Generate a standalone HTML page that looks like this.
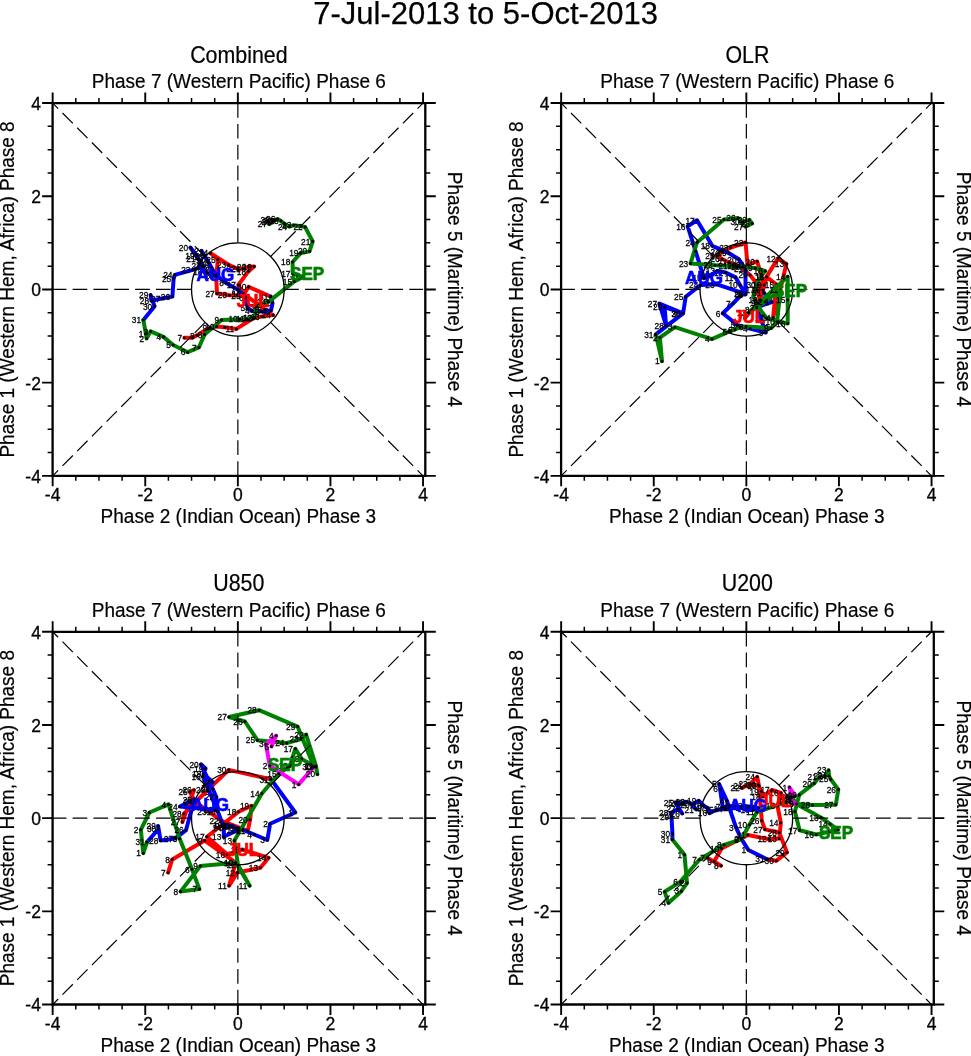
<!DOCTYPE html>
<html><head><meta charset="utf-8"><style>
html,body{margin:0;padding:0;background:#fff;overflow:hidden;}
svg{display:block;will-change:transform;}
text{font-family:"Liberation Sans", sans-serif;fill:#000;}
.d{stroke:#000;stroke-width:1.2;stroke-dasharray:14.7 6.15;fill:none;}
.c{stroke:#000;stroke-width:1.3;fill:none;}
.ax{stroke:#000;stroke-width:2.3;fill:none;}
.tk{stroke:#000;stroke-width:1.5;fill:none;}
.tkm{stroke:#000;stroke-width:1.9;fill:none;}
.tl{font-size:17.5px;stroke:#000;stroke-width:0.3px;}
.pt{font-size:22.5px;stroke:#000;stroke-width:0.2px;}
.st{font-size:19px;stroke:#000;stroke-width:0.2px;}
.tt{font-size:31px;stroke:#000;stroke-width:0.25px;}
.nl text{font-size:9.3px;text-anchor:end;stroke:#000;stroke-width:0.3px;}
.ml{font-size:18.3px;font-weight:bold;stroke-width:0.7px;}
</style></head><body>
<svg width="971" height="1056" viewBox="0 0 971 1056">
<text x="485.6" y="24" class="tt" text-anchor="middle">7-Jul-2013 to 5-Oct-2013</text>
<path d="M184.4 337.7 192.5 337.7 197 335.3 209.4 328.1 216.6 326.5 224.7 327.3 236.5 328.9 254 317.8 262 316.5 273.2 315.1 264.6 309.6 243.5 293.5 238.3 285 248.4 271.4 254.1 266.4 248.4 266.8 243 268.5 237.7 268.9 228.6 264.8 210.5 253.2 217.9 259.4 216.2 276 217 293.6 229.4 295.2 243 295.5 248.6 286.9 270.7 296.6" stroke="#ff0000" stroke-width="4.0" fill="none" stroke-linejoin="round" stroke-linecap="round"/>
<path d="M270.7 296.6 272.5 303 271 310.5 262 311.5 252 311 247.5 308 246 298 237.7 289.5 226.1 282.9 216 275 211.4 267.7 207 260 201.5 250.8 205 256.5 209 263 212.5 269.5 216 276 210 274 204.8 271.8 196.9 255.4 190.4 247.5 198 258.5 203.1 266.1 192.8 269.8 174.8 274.9 173.6 278.9 172.4 296.6 162.7 298.3 151.4 300.7 150.6 295 154.6 306.3 143.4 320" stroke="#0000ff" stroke-width="4.0" fill="none" stroke-linejoin="round" stroke-linecap="round"/>
<path d="M143.4 320 145.8 333.7 146.6 338.5 150.6 331.3 163.5 336.9 173.2 345 187.7 352.2 198.9 347.4 204.6 334.5 221.5 320 240 319.2 247 319 254.8 317.6 256.5 306.8 268.3 301.8 294.4 281.4 303 277 292.8 273.5 292.6 262 300.7 253.1 309.6 251.2 312.7 241.4 305.1 227 301.1 226.3 293.6 225.2 289.6 226.6 284.6 224.1 281 220.9 277.7 219.1 273 221.6 269.4 224.1 272 220 275 220.5" stroke="#008000" stroke-width="4.0" fill="none" stroke-linejoin="round" stroke-linecap="round"/>
<path d="M745 318 752 310 758 303 763 290 766.5 276.9 778 258.3 786.4 263.8 781.7 283.8 773.1 317.4 776.5 284.5 766.5 276.9 757 290 760 300 764 285 757.2 261.5 747.4 264.3 745.6 242.5 730.8 247.6 722 252 716.9 256 722 259 729 262.5 739 266 750 275 758 285 764 293" stroke="#ff0000" stroke-width="4.0" fill="none" stroke-linejoin="round" stroke-linecap="round"/>
<path d="M764 293 771.8 302 756.6 307.4 765.8 332.6 750 328.5 737.7 325.2 722.8 313.3 733 303.5 741.8 294.3 745.6 294.5 740 285 735.6 277.4 725.7 272.5 717.4 270.9 710 276 704 278.2 695.6 251.3 687.7 226.3 697 220.3 712.3 245.8 729 253.2 738.9 259.3 745.5 269.2 745.5 293.9 716.9 284.3 700.6 285 685.7 296.8 683.1 313.3 659.4 303.5 666.1 325.7 664.6 307.1 683.1 313.3 655.8 334.4" stroke="#0000ff" stroke-width="4.0" fill="none" stroke-linejoin="round" stroke-linecap="round"/>
<path d="M655.8 334.4 662 361.2 659.9 337.5 674.9 327.2 711.9 339.1 729.4 331.3 735 329.5 740 327.5 746 326.5 771.1 328 777.1 321.7 780.4 290 765 302 748.6 312.7 787.7 276.6 787.7 300 787.7 323.6 766.5 318 756.6 304.8 753.3 296.1 756.6 284.9 761.9 274.9 765.2 271 755 268 742.8 267.1 730 266 715 265.2 690.5 263.4 697 242.5 723.9 219.4 738 218 745.6 226.8 752.1 223.5 749.3 219.8 742 222" stroke="#008000" stroke-width="4.0" fill="none" stroke-linejoin="round" stroke-linecap="round"/>
<path d="M168.1 872.6 172.2 859.4 204.7 840.5 235.7 862.7 229.1 885.8 237.3 872.6 260.4 867.7 268.6 857.8 242.3 849.5 227.4 854.5 207 836.8 238.6 811.8 251.5 805.8 250.1 819.7 247.8 830.8 221 820.6 208.9 811.3 195 802 190 792 194 790 182.4 822 184 813.7 207.7 790 228.8 769.9 271 779.3" stroke="#ff0000" stroke-width="4.0" fill="none" stroke-linejoin="round" stroke-linecap="round"/>
<path d="M271 779.3 295.3 812.5 270.1 823.8 267.3 840 254.3 834.5 243 830 236 828 230 826 226 828 222 826 224.7 825.2 233 826.1 238 830 223.7 836.8 224 828 218 812 203 776.6 212.8 782.3 203.6 774 205.6 768.4 201 764.3 212.8 789 216.4 797.2 215.4 810.1 179.9 806.5 194.3 799.3 186 830.2 175.4 838.4 160.6 840.4 158.1 826 158.5 829 147 842.1" stroke="#0000ff" stroke-width="4.0" fill="none" stroke-linejoin="round" stroke-linecap="round"/>
<path d="M147 842.1 143.3 853.2 140.8 829.8 149.4 812.5 168.5 804.4 179.7 838.8 192 869.3 199.4 889.1 180.5 891.6 200.3 866 235.7 862.7 249.7 885.8 238 865 234.4 840.5 261.9 793.5 278.9 773.6 290 766 295.3 748.7 301.6 758.9 316 767 317.4 774.2 316 766 306.1 734.6 301 739.1 286.8 743 257.4 740.2 244.9 721.5 229.1 717 259.1 710.2 297.6 726.6 314 766.8" stroke="#008000" stroke-width="4.0" fill="none" stroke-linejoin="round" stroke-linecap="round"/>
<path d="M314 766.8 298.7 784.4 269.8 765.7 265.9 744.2 276.1 735.7 271.5 746.4" stroke="#ff00ff" stroke-width="4.0" fill="none" stroke-linejoin="round" stroke-linecap="round"/>
<path d="M707.3 857.8 721 865.8 714.1 861.5 721.6 848.5 747.9 835 769 839.2 779.3 838.6 780.8 822.7 777.5 806 781 793 772 790 762.9 796.5 761.1 791.3 758.2 784.9 745 786 742 788 750 784 757.2 776.8 759 786 761.8 820.6 764.9 829.4 779.3 832.5 787 852.5 776.2 860.8 766.9 859.2" stroke="#ff0000" stroke-width="4.0" fill="none" stroke-linejoin="round" stroke-linecap="round"/>
<path d="M766.9 859.2 748.4 850 741.2 838.6 736 827.3 726.8 800.5 719.1 784.1 720.1 789.2 722.7 807.2 732 806 742 808 752 810 758 808 745 806 735 808 725 809 715.9 810 709.4 813.1 707.8 808.1 704 806 698.7 800.7 692 805 696.2 809.4 690 803 687.2 802 681.4 803.2 675.2 802.4 682.2 813.5 678 809 670.7 813.1 671.5 816.4 672.4 833.7 672.4 839.4" stroke="#0000ff" stroke-width="4.0" fill="none" stroke-linejoin="round" stroke-linecap="round"/>
<path d="M672.4 839.4 684.5 854.7 687 883.1 681.4 891.2 668.4 902.9 664.7 891.8 680.2 881.9 699.3 859.7 724 844.8 741.3 839.3 749.4 824.7 757 812 790 800.5 820.9 817.5 830 824 837.9 829.8 816.2 834.5 799.6 830.3 794.9 811.5 799.2 794.9 814.1 783.4 819.2 777 825 776 828.6 770.2 829 776 830.7 779.2 838.3 789.4 835.8 804.7 812.4 805.1 796.2 803.9 792 797" stroke="#008000" stroke-width="4.0" fill="none" stroke-linejoin="round" stroke-linecap="round"/>
<path d="M792 797 789.4 787.3 795 796 787 797 790 800 796 804" stroke="#ff00ff" stroke-width="4.0" fill="none" stroke-linejoin="round" stroke-linecap="round"/>
<line x1="284.15" y1="289.45" x2="423.05" y2="289.45" class="d"/>
<line x1="191.55" y1="289.45" x2="52.65" y2="289.45" class="d"/>
<line x1="237.85" y1="242.85" x2="237.85" y2="103.05" class="d"/>
<line x1="237.85" y1="336.05" x2="237.85" y2="475.85" class="d"/>
<line x1="270.59" y1="256.5" x2="423.05" y2="103.05" class="d"/>
<line x1="270.59" y1="322.4" x2="423.05" y2="475.85" class="d"/>
<line x1="205.11" y1="256.5" x2="52.65" y2="103.05" class="d"/>
<line x1="205.11" y1="322.4" x2="52.65" y2="475.85" class="d"/>
<ellipse cx="237.85" cy="289.45" rx="46.3" ry="46.6" class="c"/>
<line x1="792.65" y1="289.45" x2="931.55" y2="289.45" class="d"/>
<line x1="700.05" y1="289.45" x2="561.15" y2="289.45" class="d"/>
<line x1="746.35" y1="242.85" x2="746.35" y2="103.05" class="d"/>
<line x1="746.35" y1="336.05" x2="746.35" y2="475.85" class="d"/>
<line x1="779.09" y1="256.5" x2="931.55" y2="103.05" class="d"/>
<line x1="779.09" y1="322.4" x2="931.55" y2="475.85" class="d"/>
<line x1="713.61" y1="256.5" x2="561.15" y2="103.05" class="d"/>
<line x1="713.61" y1="322.4" x2="561.15" y2="475.85" class="d"/>
<ellipse cx="746.35" cy="289.45" rx="46.3" ry="46.6" class="c"/>
<line x1="284.15" y1="818.15" x2="423.05" y2="818.15" class="d"/>
<line x1="191.55" y1="818.15" x2="52.65" y2="818.15" class="d"/>
<line x1="237.85" y1="771.55" x2="237.85" y2="631.75" class="d"/>
<line x1="237.85" y1="864.75" x2="237.85" y2="1004.55" class="d"/>
<line x1="270.59" y1="785.2" x2="423.05" y2="631.75" class="d"/>
<line x1="270.59" y1="851.1" x2="423.05" y2="1004.55" class="d"/>
<line x1="205.11" y1="785.2" x2="52.65" y2="631.75" class="d"/>
<line x1="205.11" y1="851.1" x2="52.65" y2="1004.55" class="d"/>
<ellipse cx="237.85" cy="818.15" rx="46.3" ry="46.6" class="c"/>
<line x1="792.65" y1="818.15" x2="931.55" y2="818.15" class="d"/>
<line x1="700.05" y1="818.15" x2="561.15" y2="818.15" class="d"/>
<line x1="746.35" y1="771.55" x2="746.35" y2="631.75" class="d"/>
<line x1="746.35" y1="864.75" x2="746.35" y2="1004.55" class="d"/>
<line x1="779.09" y1="785.2" x2="931.55" y2="631.75" class="d"/>
<line x1="779.09" y1="851.1" x2="931.55" y2="1004.55" class="d"/>
<line x1="713.61" y1="785.2" x2="561.15" y2="631.75" class="d"/>
<line x1="713.61" y1="851.1" x2="561.15" y2="1004.55" class="d"/>
<ellipse cx="746.35" cy="818.15" rx="46.3" ry="46.6" class="c"/>
<path d="M182.8 337.7a1.55 1.55 0 1 0 3.1 0a1.55 1.55 0 1 0 -3.1 0M190.9 337.7a1.55 1.55 0 1 0 3.1 0a1.55 1.55 0 1 0 -3.1 0M195.4 335.3a1.55 1.55 0 1 0 3.1 0a1.55 1.55 0 1 0 -3.1 0M207.8 328.1a1.55 1.55 0 1 0 3.1 0a1.55 1.55 0 1 0 -3.1 0M215 326.5a1.55 1.55 0 1 0 3.1 0a1.55 1.55 0 1 0 -3.1 0M223.1 327.3a1.55 1.55 0 1 0 3.1 0a1.55 1.55 0 1 0 -3.1 0M234.9 328.9a1.55 1.55 0 1 0 3.1 0a1.55 1.55 0 1 0 -3.1 0M252.4 317.8a1.55 1.55 0 1 0 3.1 0a1.55 1.55 0 1 0 -3.1 0M260.4 316.5a1.55 1.55 0 1 0 3.1 0a1.55 1.55 0 1 0 -3.1 0M271.6 315.1a1.55 1.55 0 1 0 3.1 0a1.55 1.55 0 1 0 -3.1 0M263.1 309.6a1.55 1.55 0 1 0 3.1 0a1.55 1.55 0 1 0 -3.1 0M241.9 293.5a1.55 1.55 0 1 0 3.1 0a1.55 1.55 0 1 0 -3.1 0M236.8 285a1.55 1.55 0 1 0 3.1 0a1.55 1.55 0 1 0 -3.1 0M246.8 271.4a1.55 1.55 0 1 0 3.1 0a1.55 1.55 0 1 0 -3.1 0M252.5 266.4a1.55 1.55 0 1 0 3.1 0a1.55 1.55 0 1 0 -3.1 0M246.8 266.8a1.55 1.55 0 1 0 3.1 0a1.55 1.55 0 1 0 -3.1 0M241.4 268.5a1.55 1.55 0 1 0 3.1 0a1.55 1.55 0 1 0 -3.1 0M236.1 268.9a1.55 1.55 0 1 0 3.1 0a1.55 1.55 0 1 0 -3.1 0M227 264.8a1.55 1.55 0 1 0 3.1 0a1.55 1.55 0 1 0 -3.1 0M208.9 253.2a1.55 1.55 0 1 0 3.1 0a1.55 1.55 0 1 0 -3.1 0M216.3 259.4a1.55 1.55 0 1 0 3.1 0a1.55 1.55 0 1 0 -3.1 0M214.6 276a1.55 1.55 0 1 0 3.1 0a1.55 1.55 0 1 0 -3.1 0M215.4 293.6a1.55 1.55 0 1 0 3.1 0a1.55 1.55 0 1 0 -3.1 0M227.8 295.2a1.55 1.55 0 1 0 3.1 0a1.55 1.55 0 1 0 -3.1 0M241.4 295.5a1.55 1.55 0 1 0 3.1 0a1.55 1.55 0 1 0 -3.1 0M247 286.9a1.55 1.55 0 1 0 3.1 0a1.55 1.55 0 1 0 -3.1 0M269.1 296.6a1.55 1.55 0 1 0 3.1 0a1.55 1.55 0 1 0 -3.1 0M270.9 303a1.55 1.55 0 1 0 3.1 0a1.55 1.55 0 1 0 -3.1 0M269.4 310.5a1.55 1.55 0 1 0 3.1 0a1.55 1.55 0 1 0 -3.1 0M260.4 311.5a1.55 1.55 0 1 0 3.1 0a1.55 1.55 0 1 0 -3.1 0M250.4 311a1.55 1.55 0 1 0 3.1 0a1.55 1.55 0 1 0 -3.1 0M245.9 308a1.55 1.55 0 1 0 3.1 0a1.55 1.55 0 1 0 -3.1 0M244.4 298a1.55 1.55 0 1 0 3.1 0a1.55 1.55 0 1 0 -3.1 0M236.1 289.5a1.55 1.55 0 1 0 3.1 0a1.55 1.55 0 1 0 -3.1 0M224.5 282.9a1.55 1.55 0 1 0 3.1 0a1.55 1.55 0 1 0 -3.1 0M214.4 275a1.55 1.55 0 1 0 3.1 0a1.55 1.55 0 1 0 -3.1 0M209.8 267.7a1.55 1.55 0 1 0 3.1 0a1.55 1.55 0 1 0 -3.1 0M205.4 260a1.55 1.55 0 1 0 3.1 0a1.55 1.55 0 1 0 -3.1 0M199.9 250.8a1.55 1.55 0 1 0 3.1 0a1.55 1.55 0 1 0 -3.1 0M203.4 256.5a1.55 1.55 0 1 0 3.1 0a1.55 1.55 0 1 0 -3.1 0M207.4 263a1.55 1.55 0 1 0 3.1 0a1.55 1.55 0 1 0 -3.1 0M210.9 269.5a1.55 1.55 0 1 0 3.1 0a1.55 1.55 0 1 0 -3.1 0M214.4 276a1.55 1.55 0 1 0 3.1 0a1.55 1.55 0 1 0 -3.1 0M208.4 274a1.55 1.55 0 1 0 3.1 0a1.55 1.55 0 1 0 -3.1 0M203.2 271.8a1.55 1.55 0 1 0 3.1 0a1.55 1.55 0 1 0 -3.1 0M195.3 255.4a1.55 1.55 0 1 0 3.1 0a1.55 1.55 0 1 0 -3.1 0M188.8 247.5a1.55 1.55 0 1 0 3.1 0a1.55 1.55 0 1 0 -3.1 0M196.4 258.5a1.55 1.55 0 1 0 3.1 0a1.55 1.55 0 1 0 -3.1 0M201.5 266.1a1.55 1.55 0 1 0 3.1 0a1.55 1.55 0 1 0 -3.1 0M191.2 269.8a1.55 1.55 0 1 0 3.1 0a1.55 1.55 0 1 0 -3.1 0M173.2 274.9a1.55 1.55 0 1 0 3.1 0a1.55 1.55 0 1 0 -3.1 0M172 278.9a1.55 1.55 0 1 0 3.1 0a1.55 1.55 0 1 0 -3.1 0M170.8 296.6a1.55 1.55 0 1 0 3.1 0a1.55 1.55 0 1 0 -3.1 0M161.1 298.3a1.55 1.55 0 1 0 3.1 0a1.55 1.55 0 1 0 -3.1 0M149.8 300.7a1.55 1.55 0 1 0 3.1 0a1.55 1.55 0 1 0 -3.1 0M149 295a1.55 1.55 0 1 0 3.1 0a1.55 1.55 0 1 0 -3.1 0M153 306.3a1.55 1.55 0 1 0 3.1 0a1.55 1.55 0 1 0 -3.1 0M141.8 320a1.55 1.55 0 1 0 3.1 0a1.55 1.55 0 1 0 -3.1 0M144.2 333.7a1.55 1.55 0 1 0 3.1 0a1.55 1.55 0 1 0 -3.1 0M145 338.5a1.55 1.55 0 1 0 3.1 0a1.55 1.55 0 1 0 -3.1 0M149 331.3a1.55 1.55 0 1 0 3.1 0a1.55 1.55 0 1 0 -3.1 0M161.9 336.9a1.55 1.55 0 1 0 3.1 0a1.55 1.55 0 1 0 -3.1 0M171.6 345a1.55 1.55 0 1 0 3.1 0a1.55 1.55 0 1 0 -3.1 0M186.1 352.2a1.55 1.55 0 1 0 3.1 0a1.55 1.55 0 1 0 -3.1 0M197.3 347.4a1.55 1.55 0 1 0 3.1 0a1.55 1.55 0 1 0 -3.1 0M203 334.5a1.55 1.55 0 1 0 3.1 0a1.55 1.55 0 1 0 -3.1 0M219.9 320a1.55 1.55 0 1 0 3.1 0a1.55 1.55 0 1 0 -3.1 0M238.4 319.2a1.55 1.55 0 1 0 3.1 0a1.55 1.55 0 1 0 -3.1 0M245.4 319a1.55 1.55 0 1 0 3.1 0a1.55 1.55 0 1 0 -3.1 0M253.2 317.6a1.55 1.55 0 1 0 3.1 0a1.55 1.55 0 1 0 -3.1 0M254.9 306.8a1.55 1.55 0 1 0 3.1 0a1.55 1.55 0 1 0 -3.1 0M266.8 301.8a1.55 1.55 0 1 0 3.1 0a1.55 1.55 0 1 0 -3.1 0M292.8 281.4a1.55 1.55 0 1 0 3.1 0a1.55 1.55 0 1 0 -3.1 0M301.4 277a1.55 1.55 0 1 0 3.1 0a1.55 1.55 0 1 0 -3.1 0M291.2 273.5a1.55 1.55 0 1 0 3.1 0a1.55 1.55 0 1 0 -3.1 0M291.1 262a1.55 1.55 0 1 0 3.1 0a1.55 1.55 0 1 0 -3.1 0M299.1 253.1a1.55 1.55 0 1 0 3.1 0a1.55 1.55 0 1 0 -3.1 0M308.1 251.2a1.55 1.55 0 1 0 3.1 0a1.55 1.55 0 1 0 -3.1 0M311.1 241.4a1.55 1.55 0 1 0 3.1 0a1.55 1.55 0 1 0 -3.1 0M303.6 227a1.55 1.55 0 1 0 3.1 0a1.55 1.55 0 1 0 -3.1 0M299.6 226.3a1.55 1.55 0 1 0 3.1 0a1.55 1.55 0 1 0 -3.1 0M292.1 225.2a1.55 1.55 0 1 0 3.1 0a1.55 1.55 0 1 0 -3.1 0M288.1 226.6a1.55 1.55 0 1 0 3.1 0a1.55 1.55 0 1 0 -3.1 0M283.1 224.1a1.55 1.55 0 1 0 3.1 0a1.55 1.55 0 1 0 -3.1 0M279.4 220.9a1.55 1.55 0 1 0 3.1 0a1.55 1.55 0 1 0 -3.1 0M276.1 219.1a1.55 1.55 0 1 0 3.1 0a1.55 1.55 0 1 0 -3.1 0M271.4 221.6a1.55 1.55 0 1 0 3.1 0a1.55 1.55 0 1 0 -3.1 0M267.8 224.1a1.55 1.55 0 1 0 3.1 0a1.55 1.55 0 1 0 -3.1 0M270.4 220a1.55 1.55 0 1 0 3.1 0a1.55 1.55 0 1 0 -3.1 0M273.4 220.5a1.55 1.55 0 1 0 3.1 0a1.55 1.55 0 1 0 -3.1 0M743.5 318a1.55 1.55 0 1 0 3.1 0a1.55 1.55 0 1 0 -3.1 0M750.5 310a1.55 1.55 0 1 0 3.1 0a1.55 1.55 0 1 0 -3.1 0M756.5 303a1.55 1.55 0 1 0 3.1 0a1.55 1.55 0 1 0 -3.1 0M761.5 290a1.55 1.55 0 1 0 3.1 0a1.55 1.55 0 1 0 -3.1 0M765 276.9a1.55 1.55 0 1 0 3.1 0a1.55 1.55 0 1 0 -3.1 0M776.5 258.3a1.55 1.55 0 1 0 3.1 0a1.55 1.55 0 1 0 -3.1 0M784.9 263.8a1.55 1.55 0 1 0 3.1 0a1.55 1.55 0 1 0 -3.1 0M771.6 317.4a1.55 1.55 0 1 0 3.1 0a1.55 1.55 0 1 0 -3.1 0M775 284.5a1.55 1.55 0 1 0 3.1 0a1.55 1.55 0 1 0 -3.1 0M765 276.9a1.55 1.55 0 1 0 3.1 0a1.55 1.55 0 1 0 -3.1 0M755.5 290a1.55 1.55 0 1 0 3.1 0a1.55 1.55 0 1 0 -3.1 0M758.5 300a1.55 1.55 0 1 0 3.1 0a1.55 1.55 0 1 0 -3.1 0M762.5 285a1.55 1.55 0 1 0 3.1 0a1.55 1.55 0 1 0 -3.1 0M755.7 261.5a1.55 1.55 0 1 0 3.1 0a1.55 1.55 0 1 0 -3.1 0M745.9 264.3a1.55 1.55 0 1 0 3.1 0a1.55 1.55 0 1 0 -3.1 0M744.1 242.5a1.55 1.55 0 1 0 3.1 0a1.55 1.55 0 1 0 -3.1 0M729.2 247.6a1.55 1.55 0 1 0 3.1 0a1.55 1.55 0 1 0 -3.1 0M720.5 252a1.55 1.55 0 1 0 3.1 0a1.55 1.55 0 1 0 -3.1 0M715.4 256a1.55 1.55 0 1 0 3.1 0a1.55 1.55 0 1 0 -3.1 0M720.5 259a1.55 1.55 0 1 0 3.1 0a1.55 1.55 0 1 0 -3.1 0M727.5 262.5a1.55 1.55 0 1 0 3.1 0a1.55 1.55 0 1 0 -3.1 0M737.5 266a1.55 1.55 0 1 0 3.1 0a1.55 1.55 0 1 0 -3.1 0M748.5 275a1.55 1.55 0 1 0 3.1 0a1.55 1.55 0 1 0 -3.1 0M756.5 285a1.55 1.55 0 1 0 3.1 0a1.55 1.55 0 1 0 -3.1 0M762.5 293a1.55 1.55 0 1 0 3.1 0a1.55 1.55 0 1 0 -3.1 0M770.2 302a1.55 1.55 0 1 0 3.1 0a1.55 1.55 0 1 0 -3.1 0M755.1 307.4a1.55 1.55 0 1 0 3.1 0a1.55 1.55 0 1 0 -3.1 0M764.2 332.6a1.55 1.55 0 1 0 3.1 0a1.55 1.55 0 1 0 -3.1 0M748.5 328.5a1.55 1.55 0 1 0 3.1 0a1.55 1.55 0 1 0 -3.1 0M736.2 325.2a1.55 1.55 0 1 0 3.1 0a1.55 1.55 0 1 0 -3.1 0M721.2 313.3a1.55 1.55 0 1 0 3.1 0a1.55 1.55 0 1 0 -3.1 0M731.5 303.5a1.55 1.55 0 1 0 3.1 0a1.55 1.55 0 1 0 -3.1 0M740.2 294.3a1.55 1.55 0 1 0 3.1 0a1.55 1.55 0 1 0 -3.1 0M744.1 294.5a1.55 1.55 0 1 0 3.1 0a1.55 1.55 0 1 0 -3.1 0M738.5 285a1.55 1.55 0 1 0 3.1 0a1.55 1.55 0 1 0 -3.1 0M734.1 277.4a1.55 1.55 0 1 0 3.1 0a1.55 1.55 0 1 0 -3.1 0M724.2 272.5a1.55 1.55 0 1 0 3.1 0a1.55 1.55 0 1 0 -3.1 0M715.9 270.9a1.55 1.55 0 1 0 3.1 0a1.55 1.55 0 1 0 -3.1 0M708.5 276a1.55 1.55 0 1 0 3.1 0a1.55 1.55 0 1 0 -3.1 0M702.5 278.2a1.55 1.55 0 1 0 3.1 0a1.55 1.55 0 1 0 -3.1 0M694.1 251.3a1.55 1.55 0 1 0 3.1 0a1.55 1.55 0 1 0 -3.1 0M686.2 226.3a1.55 1.55 0 1 0 3.1 0a1.55 1.55 0 1 0 -3.1 0M695.5 220.3a1.55 1.55 0 1 0 3.1 0a1.55 1.55 0 1 0 -3.1 0M710.8 245.8a1.55 1.55 0 1 0 3.1 0a1.55 1.55 0 1 0 -3.1 0M727.5 253.2a1.55 1.55 0 1 0 3.1 0a1.55 1.55 0 1 0 -3.1 0M737.4 259.3a1.55 1.55 0 1 0 3.1 0a1.55 1.55 0 1 0 -3.1 0M744 269.2a1.55 1.55 0 1 0 3.1 0a1.55 1.55 0 1 0 -3.1 0M744 293.9a1.55 1.55 0 1 0 3.1 0a1.55 1.55 0 1 0 -3.1 0M715.4 284.3a1.55 1.55 0 1 0 3.1 0a1.55 1.55 0 1 0 -3.1 0M699.1 285a1.55 1.55 0 1 0 3.1 0a1.55 1.55 0 1 0 -3.1 0M684.2 296.8a1.55 1.55 0 1 0 3.1 0a1.55 1.55 0 1 0 -3.1 0M681.6 313.3a1.55 1.55 0 1 0 3.1 0a1.55 1.55 0 1 0 -3.1 0M657.9 303.5a1.55 1.55 0 1 0 3.1 0a1.55 1.55 0 1 0 -3.1 0M664.6 325.7a1.55 1.55 0 1 0 3.1 0a1.55 1.55 0 1 0 -3.1 0M663.1 307.1a1.55 1.55 0 1 0 3.1 0a1.55 1.55 0 1 0 -3.1 0M681.6 313.3a1.55 1.55 0 1 0 3.1 0a1.55 1.55 0 1 0 -3.1 0M654.2 334.4a1.55 1.55 0 1 0 3.1 0a1.55 1.55 0 1 0 -3.1 0M660.5 361.2a1.55 1.55 0 1 0 3.1 0a1.55 1.55 0 1 0 -3.1 0M658.4 337.5a1.55 1.55 0 1 0 3.1 0a1.55 1.55 0 1 0 -3.1 0M673.4 327.2a1.55 1.55 0 1 0 3.1 0a1.55 1.55 0 1 0 -3.1 0M710.4 339.1a1.55 1.55 0 1 0 3.1 0a1.55 1.55 0 1 0 -3.1 0M727.9 331.3a1.55 1.55 0 1 0 3.1 0a1.55 1.55 0 1 0 -3.1 0M733.5 329.5a1.55 1.55 0 1 0 3.1 0a1.55 1.55 0 1 0 -3.1 0M738.5 327.5a1.55 1.55 0 1 0 3.1 0a1.55 1.55 0 1 0 -3.1 0M744.5 326.5a1.55 1.55 0 1 0 3.1 0a1.55 1.55 0 1 0 -3.1 0M769.6 328a1.55 1.55 0 1 0 3.1 0a1.55 1.55 0 1 0 -3.1 0M775.6 321.7a1.55 1.55 0 1 0 3.1 0a1.55 1.55 0 1 0 -3.1 0M778.9 290a1.55 1.55 0 1 0 3.1 0a1.55 1.55 0 1 0 -3.1 0M763.5 302a1.55 1.55 0 1 0 3.1 0a1.55 1.55 0 1 0 -3.1 0M747.1 312.7a1.55 1.55 0 1 0 3.1 0a1.55 1.55 0 1 0 -3.1 0M786.2 276.6a1.55 1.55 0 1 0 3.1 0a1.55 1.55 0 1 0 -3.1 0M786.2 300a1.55 1.55 0 1 0 3.1 0a1.55 1.55 0 1 0 -3.1 0M786.2 323.6a1.55 1.55 0 1 0 3.1 0a1.55 1.55 0 1 0 -3.1 0M765 318a1.55 1.55 0 1 0 3.1 0a1.55 1.55 0 1 0 -3.1 0M763.7 271a1.55 1.55 0 1 0 3.1 0a1.55 1.55 0 1 0 -3.1 0M753.5 268a1.55 1.55 0 1 0 3.1 0a1.55 1.55 0 1 0 -3.1 0M741.2 267.1a1.55 1.55 0 1 0 3.1 0a1.55 1.55 0 1 0 -3.1 0M728.5 266a1.55 1.55 0 1 0 3.1 0a1.55 1.55 0 1 0 -3.1 0M713.5 265.2a1.55 1.55 0 1 0 3.1 0a1.55 1.55 0 1 0 -3.1 0M689 263.4a1.55 1.55 0 1 0 3.1 0a1.55 1.55 0 1 0 -3.1 0M695.5 242.5a1.55 1.55 0 1 0 3.1 0a1.55 1.55 0 1 0 -3.1 0M722.4 219.4a1.55 1.55 0 1 0 3.1 0a1.55 1.55 0 1 0 -3.1 0M736.5 218a1.55 1.55 0 1 0 3.1 0a1.55 1.55 0 1 0 -3.1 0M744.1 226.8a1.55 1.55 0 1 0 3.1 0a1.55 1.55 0 1 0 -3.1 0M750.6 223.5a1.55 1.55 0 1 0 3.1 0a1.55 1.55 0 1 0 -3.1 0M747.8 219.8a1.55 1.55 0 1 0 3.1 0a1.55 1.55 0 1 0 -3.1 0M740.5 222a1.55 1.55 0 1 0 3.1 0a1.55 1.55 0 1 0 -3.1 0M166.5 872.6a1.55 1.55 0 1 0 3.1 0a1.55 1.55 0 1 0 -3.1 0M170.6 859.4a1.55 1.55 0 1 0 3.1 0a1.55 1.55 0 1 0 -3.1 0M203.1 840.5a1.55 1.55 0 1 0 3.1 0a1.55 1.55 0 1 0 -3.1 0M234.1 862.7a1.55 1.55 0 1 0 3.1 0a1.55 1.55 0 1 0 -3.1 0M227.5 885.8a1.55 1.55 0 1 0 3.1 0a1.55 1.55 0 1 0 -3.1 0M235.8 872.6a1.55 1.55 0 1 0 3.1 0a1.55 1.55 0 1 0 -3.1 0M258.8 867.7a1.55 1.55 0 1 0 3.1 0a1.55 1.55 0 1 0 -3.1 0M267.1 857.8a1.55 1.55 0 1 0 3.1 0a1.55 1.55 0 1 0 -3.1 0M240.8 849.5a1.55 1.55 0 1 0 3.1 0a1.55 1.55 0 1 0 -3.1 0M225.8 854.5a1.55 1.55 0 1 0 3.1 0a1.55 1.55 0 1 0 -3.1 0M205.4 836.8a1.55 1.55 0 1 0 3.1 0a1.55 1.55 0 1 0 -3.1 0M237 811.8a1.55 1.55 0 1 0 3.1 0a1.55 1.55 0 1 0 -3.1 0M249.9 805.8a1.55 1.55 0 1 0 3.1 0a1.55 1.55 0 1 0 -3.1 0M248.5 819.7a1.55 1.55 0 1 0 3.1 0a1.55 1.55 0 1 0 -3.1 0M246.2 830.8a1.55 1.55 0 1 0 3.1 0a1.55 1.55 0 1 0 -3.1 0M219.4 820.6a1.55 1.55 0 1 0 3.1 0a1.55 1.55 0 1 0 -3.1 0M207.3 811.3a1.55 1.55 0 1 0 3.1 0a1.55 1.55 0 1 0 -3.1 0M193.4 802a1.55 1.55 0 1 0 3.1 0a1.55 1.55 0 1 0 -3.1 0M188.4 792a1.55 1.55 0 1 0 3.1 0a1.55 1.55 0 1 0 -3.1 0M192.4 790a1.55 1.55 0 1 0 3.1 0a1.55 1.55 0 1 0 -3.1 0M180.8 822a1.55 1.55 0 1 0 3.1 0a1.55 1.55 0 1 0 -3.1 0M182.4 813.7a1.55 1.55 0 1 0 3.1 0a1.55 1.55 0 1 0 -3.1 0M206.1 790a1.55 1.55 0 1 0 3.1 0a1.55 1.55 0 1 0 -3.1 0M227.2 769.9a1.55 1.55 0 1 0 3.1 0a1.55 1.55 0 1 0 -3.1 0M269.4 779.3a1.55 1.55 0 1 0 3.1 0a1.55 1.55 0 1 0 -3.1 0M293.8 812.5a1.55 1.55 0 1 0 3.1 0a1.55 1.55 0 1 0 -3.1 0M268.6 823.8a1.55 1.55 0 1 0 3.1 0a1.55 1.55 0 1 0 -3.1 0M265.8 840a1.55 1.55 0 1 0 3.1 0a1.55 1.55 0 1 0 -3.1 0M252.8 834.5a1.55 1.55 0 1 0 3.1 0a1.55 1.55 0 1 0 -3.1 0M241.4 830a1.55 1.55 0 1 0 3.1 0a1.55 1.55 0 1 0 -3.1 0M234.4 828a1.55 1.55 0 1 0 3.1 0a1.55 1.55 0 1 0 -3.1 0M228.4 826a1.55 1.55 0 1 0 3.1 0a1.55 1.55 0 1 0 -3.1 0M224.4 828a1.55 1.55 0 1 0 3.1 0a1.55 1.55 0 1 0 -3.1 0M220.4 826a1.55 1.55 0 1 0 3.1 0a1.55 1.55 0 1 0 -3.1 0M223.1 825.2a1.55 1.55 0 1 0 3.1 0a1.55 1.55 0 1 0 -3.1 0M231.4 826.1a1.55 1.55 0 1 0 3.1 0a1.55 1.55 0 1 0 -3.1 0M236.4 830a1.55 1.55 0 1 0 3.1 0a1.55 1.55 0 1 0 -3.1 0M222.1 836.8a1.55 1.55 0 1 0 3.1 0a1.55 1.55 0 1 0 -3.1 0M222.4 828a1.55 1.55 0 1 0 3.1 0a1.55 1.55 0 1 0 -3.1 0M216.4 812a1.55 1.55 0 1 0 3.1 0a1.55 1.55 0 1 0 -3.1 0M201.4 776.6a1.55 1.55 0 1 0 3.1 0a1.55 1.55 0 1 0 -3.1 0M211.2 782.3a1.55 1.55 0 1 0 3.1 0a1.55 1.55 0 1 0 -3.1 0M202 774a1.55 1.55 0 1 0 3.1 0a1.55 1.55 0 1 0 -3.1 0M204 768.4a1.55 1.55 0 1 0 3.1 0a1.55 1.55 0 1 0 -3.1 0M199.4 764.3a1.55 1.55 0 1 0 3.1 0a1.55 1.55 0 1 0 -3.1 0M211.2 789a1.55 1.55 0 1 0 3.1 0a1.55 1.55 0 1 0 -3.1 0M214.8 797.2a1.55 1.55 0 1 0 3.1 0a1.55 1.55 0 1 0 -3.1 0M213.8 810.1a1.55 1.55 0 1 0 3.1 0a1.55 1.55 0 1 0 -3.1 0M178.3 806.5a1.55 1.55 0 1 0 3.1 0a1.55 1.55 0 1 0 -3.1 0M192.8 799.3a1.55 1.55 0 1 0 3.1 0a1.55 1.55 0 1 0 -3.1 0M184.4 830.2a1.55 1.55 0 1 0 3.1 0a1.55 1.55 0 1 0 -3.1 0M173.8 838.4a1.55 1.55 0 1 0 3.1 0a1.55 1.55 0 1 0 -3.1 0M159 840.4a1.55 1.55 0 1 0 3.1 0a1.55 1.55 0 1 0 -3.1 0M156.5 826a1.55 1.55 0 1 0 3.1 0a1.55 1.55 0 1 0 -3.1 0M156.9 829a1.55 1.55 0 1 0 3.1 0a1.55 1.55 0 1 0 -3.1 0M145.4 842.1a1.55 1.55 0 1 0 3.1 0a1.55 1.55 0 1 0 -3.1 0M141.8 853.2a1.55 1.55 0 1 0 3.1 0a1.55 1.55 0 1 0 -3.1 0M139.2 829.8a1.55 1.55 0 1 0 3.1 0a1.55 1.55 0 1 0 -3.1 0M147.8 812.5a1.55 1.55 0 1 0 3.1 0a1.55 1.55 0 1 0 -3.1 0M166.9 804.4a1.55 1.55 0 1 0 3.1 0a1.55 1.55 0 1 0 -3.1 0M178.1 838.8a1.55 1.55 0 1 0 3.1 0a1.55 1.55 0 1 0 -3.1 0M190.4 869.3a1.55 1.55 0 1 0 3.1 0a1.55 1.55 0 1 0 -3.1 0M197.8 889.1a1.55 1.55 0 1 0 3.1 0a1.55 1.55 0 1 0 -3.1 0M178.9 891.6a1.55 1.55 0 1 0 3.1 0a1.55 1.55 0 1 0 -3.1 0M198.8 866a1.55 1.55 0 1 0 3.1 0a1.55 1.55 0 1 0 -3.1 0M234.1 862.7a1.55 1.55 0 1 0 3.1 0a1.55 1.55 0 1 0 -3.1 0M248.1 885.8a1.55 1.55 0 1 0 3.1 0a1.55 1.55 0 1 0 -3.1 0M236.4 865a1.55 1.55 0 1 0 3.1 0a1.55 1.55 0 1 0 -3.1 0M232.8 840.5a1.55 1.55 0 1 0 3.1 0a1.55 1.55 0 1 0 -3.1 0M260.3 793.5a1.55 1.55 0 1 0 3.1 0a1.55 1.55 0 1 0 -3.1 0M277.3 773.6a1.55 1.55 0 1 0 3.1 0a1.55 1.55 0 1 0 -3.1 0M288.4 766a1.55 1.55 0 1 0 3.1 0a1.55 1.55 0 1 0 -3.1 0M293.8 748.7a1.55 1.55 0 1 0 3.1 0a1.55 1.55 0 1 0 -3.1 0M300.1 758.9a1.55 1.55 0 1 0 3.1 0a1.55 1.55 0 1 0 -3.1 0M314.4 767a1.55 1.55 0 1 0 3.1 0a1.55 1.55 0 1 0 -3.1 0M315.8 774.2a1.55 1.55 0 1 0 3.1 0a1.55 1.55 0 1 0 -3.1 0M314.4 766a1.55 1.55 0 1 0 3.1 0a1.55 1.55 0 1 0 -3.1 0M304.6 734.6a1.55 1.55 0 1 0 3.1 0a1.55 1.55 0 1 0 -3.1 0M299.4 739.1a1.55 1.55 0 1 0 3.1 0a1.55 1.55 0 1 0 -3.1 0M285.2 743a1.55 1.55 0 1 0 3.1 0a1.55 1.55 0 1 0 -3.1 0M255.8 740.2a1.55 1.55 0 1 0 3.1 0a1.55 1.55 0 1 0 -3.1 0M243.3 721.5a1.55 1.55 0 1 0 3.1 0a1.55 1.55 0 1 0 -3.1 0M227.5 717a1.55 1.55 0 1 0 3.1 0a1.55 1.55 0 1 0 -3.1 0M257.6 710.2a1.55 1.55 0 1 0 3.1 0a1.55 1.55 0 1 0 -3.1 0M296.1 726.6a1.55 1.55 0 1 0 3.1 0a1.55 1.55 0 1 0 -3.1 0M312.4 766.8a1.55 1.55 0 1 0 3.1 0a1.55 1.55 0 1 0 -3.1 0M297.1 784.4a1.55 1.55 0 1 0 3.1 0a1.55 1.55 0 1 0 -3.1 0M268.2 765.7a1.55 1.55 0 1 0 3.1 0a1.55 1.55 0 1 0 -3.1 0M264.3 744.2a1.55 1.55 0 1 0 3.1 0a1.55 1.55 0 1 0 -3.1 0M274.6 735.7a1.55 1.55 0 1 0 3.1 0a1.55 1.55 0 1 0 -3.1 0M269.9 746.4a1.55 1.55 0 1 0 3.1 0a1.55 1.55 0 1 0 -3.1 0M705.8 857.8a1.55 1.55 0 1 0 3.1 0a1.55 1.55 0 1 0 -3.1 0M719.5 865.8a1.55 1.55 0 1 0 3.1 0a1.55 1.55 0 1 0 -3.1 0M712.6 861.5a1.55 1.55 0 1 0 3.1 0a1.55 1.55 0 1 0 -3.1 0M720.1 848.5a1.55 1.55 0 1 0 3.1 0a1.55 1.55 0 1 0 -3.1 0M746.4 835a1.55 1.55 0 1 0 3.1 0a1.55 1.55 0 1 0 -3.1 0M767.5 839.2a1.55 1.55 0 1 0 3.1 0a1.55 1.55 0 1 0 -3.1 0M777.8 838.6a1.55 1.55 0 1 0 3.1 0a1.55 1.55 0 1 0 -3.1 0M779.2 822.7a1.55 1.55 0 1 0 3.1 0a1.55 1.55 0 1 0 -3.1 0M776 806a1.55 1.55 0 1 0 3.1 0a1.55 1.55 0 1 0 -3.1 0M779.5 793a1.55 1.55 0 1 0 3.1 0a1.55 1.55 0 1 0 -3.1 0M770.5 790a1.55 1.55 0 1 0 3.1 0a1.55 1.55 0 1 0 -3.1 0M761.4 796.5a1.55 1.55 0 1 0 3.1 0a1.55 1.55 0 1 0 -3.1 0M759.6 791.3a1.55 1.55 0 1 0 3.1 0a1.55 1.55 0 1 0 -3.1 0M756.7 784.9a1.55 1.55 0 1 0 3.1 0a1.55 1.55 0 1 0 -3.1 0M743.5 786a1.55 1.55 0 1 0 3.1 0a1.55 1.55 0 1 0 -3.1 0M740.5 788a1.55 1.55 0 1 0 3.1 0a1.55 1.55 0 1 0 -3.1 0M748.5 784a1.55 1.55 0 1 0 3.1 0a1.55 1.55 0 1 0 -3.1 0M755.7 776.8a1.55 1.55 0 1 0 3.1 0a1.55 1.55 0 1 0 -3.1 0M757.5 786a1.55 1.55 0 1 0 3.1 0a1.55 1.55 0 1 0 -3.1 0M760.2 820.6a1.55 1.55 0 1 0 3.1 0a1.55 1.55 0 1 0 -3.1 0M763.4 829.4a1.55 1.55 0 1 0 3.1 0a1.55 1.55 0 1 0 -3.1 0M777.8 832.5a1.55 1.55 0 1 0 3.1 0a1.55 1.55 0 1 0 -3.1 0M785.5 852.5a1.55 1.55 0 1 0 3.1 0a1.55 1.55 0 1 0 -3.1 0M774.7 860.8a1.55 1.55 0 1 0 3.1 0a1.55 1.55 0 1 0 -3.1 0M765.4 859.2a1.55 1.55 0 1 0 3.1 0a1.55 1.55 0 1 0 -3.1 0M746.9 850a1.55 1.55 0 1 0 3.1 0a1.55 1.55 0 1 0 -3.1 0M739.7 838.6a1.55 1.55 0 1 0 3.1 0a1.55 1.55 0 1 0 -3.1 0M734.5 827.3a1.55 1.55 0 1 0 3.1 0a1.55 1.55 0 1 0 -3.1 0M725.2 800.5a1.55 1.55 0 1 0 3.1 0a1.55 1.55 0 1 0 -3.1 0M717.6 784.1a1.55 1.55 0 1 0 3.1 0a1.55 1.55 0 1 0 -3.1 0M718.6 789.2a1.55 1.55 0 1 0 3.1 0a1.55 1.55 0 1 0 -3.1 0M721.2 807.2a1.55 1.55 0 1 0 3.1 0a1.55 1.55 0 1 0 -3.1 0M730.5 806a1.55 1.55 0 1 0 3.1 0a1.55 1.55 0 1 0 -3.1 0M740.5 808a1.55 1.55 0 1 0 3.1 0a1.55 1.55 0 1 0 -3.1 0M750.5 810a1.55 1.55 0 1 0 3.1 0a1.55 1.55 0 1 0 -3.1 0M756.5 808a1.55 1.55 0 1 0 3.1 0a1.55 1.55 0 1 0 -3.1 0M743.5 806a1.55 1.55 0 1 0 3.1 0a1.55 1.55 0 1 0 -3.1 0M733.5 808a1.55 1.55 0 1 0 3.1 0a1.55 1.55 0 1 0 -3.1 0M723.5 809a1.55 1.55 0 1 0 3.1 0a1.55 1.55 0 1 0 -3.1 0M714.4 810a1.55 1.55 0 1 0 3.1 0a1.55 1.55 0 1 0 -3.1 0M707.9 813.1a1.55 1.55 0 1 0 3.1 0a1.55 1.55 0 1 0 -3.1 0M706.2 808.1a1.55 1.55 0 1 0 3.1 0a1.55 1.55 0 1 0 -3.1 0M702.5 806a1.55 1.55 0 1 0 3.1 0a1.55 1.55 0 1 0 -3.1 0M697.2 800.7a1.55 1.55 0 1 0 3.1 0a1.55 1.55 0 1 0 -3.1 0M690.5 805a1.55 1.55 0 1 0 3.1 0a1.55 1.55 0 1 0 -3.1 0M694.7 809.4a1.55 1.55 0 1 0 3.1 0a1.55 1.55 0 1 0 -3.1 0M688.5 803a1.55 1.55 0 1 0 3.1 0a1.55 1.55 0 1 0 -3.1 0M685.7 802a1.55 1.55 0 1 0 3.1 0a1.55 1.55 0 1 0 -3.1 0M679.9 803.2a1.55 1.55 0 1 0 3.1 0a1.55 1.55 0 1 0 -3.1 0M673.7 802.4a1.55 1.55 0 1 0 3.1 0a1.55 1.55 0 1 0 -3.1 0M680.7 813.5a1.55 1.55 0 1 0 3.1 0a1.55 1.55 0 1 0 -3.1 0M676.5 809a1.55 1.55 0 1 0 3.1 0a1.55 1.55 0 1 0 -3.1 0M669.2 813.1a1.55 1.55 0 1 0 3.1 0a1.55 1.55 0 1 0 -3.1 0M670 816.4a1.55 1.55 0 1 0 3.1 0a1.55 1.55 0 1 0 -3.1 0M670.9 833.7a1.55 1.55 0 1 0 3.1 0a1.55 1.55 0 1 0 -3.1 0M670.9 839.4a1.55 1.55 0 1 0 3.1 0a1.55 1.55 0 1 0 -3.1 0M683 854.7a1.55 1.55 0 1 0 3.1 0a1.55 1.55 0 1 0 -3.1 0M685.5 883.1a1.55 1.55 0 1 0 3.1 0a1.55 1.55 0 1 0 -3.1 0M679.9 891.2a1.55 1.55 0 1 0 3.1 0a1.55 1.55 0 1 0 -3.1 0M666.9 902.9a1.55 1.55 0 1 0 3.1 0a1.55 1.55 0 1 0 -3.1 0M663.2 891.8a1.55 1.55 0 1 0 3.1 0a1.55 1.55 0 1 0 -3.1 0M678.7 881.9a1.55 1.55 0 1 0 3.1 0a1.55 1.55 0 1 0 -3.1 0M697.8 859.7a1.55 1.55 0 1 0 3.1 0a1.55 1.55 0 1 0 -3.1 0M722.5 844.8a1.55 1.55 0 1 0 3.1 0a1.55 1.55 0 1 0 -3.1 0M739.8 839.3a1.55 1.55 0 1 0 3.1 0a1.55 1.55 0 1 0 -3.1 0M747.9 824.7a1.55 1.55 0 1 0 3.1 0a1.55 1.55 0 1 0 -3.1 0M755.5 812a1.55 1.55 0 1 0 3.1 0a1.55 1.55 0 1 0 -3.1 0M788.5 800.5a1.55 1.55 0 1 0 3.1 0a1.55 1.55 0 1 0 -3.1 0M819.4 817.5a1.55 1.55 0 1 0 3.1 0a1.55 1.55 0 1 0 -3.1 0M828.5 824a1.55 1.55 0 1 0 3.1 0a1.55 1.55 0 1 0 -3.1 0M836.4 829.8a1.55 1.55 0 1 0 3.1 0a1.55 1.55 0 1 0 -3.1 0M814.7 834.5a1.55 1.55 0 1 0 3.1 0a1.55 1.55 0 1 0 -3.1 0M798.1 830.3a1.55 1.55 0 1 0 3.1 0a1.55 1.55 0 1 0 -3.1 0M793.4 811.5a1.55 1.55 0 1 0 3.1 0a1.55 1.55 0 1 0 -3.1 0M797.7 794.9a1.55 1.55 0 1 0 3.1 0a1.55 1.55 0 1 0 -3.1 0M812.6 783.4a1.55 1.55 0 1 0 3.1 0a1.55 1.55 0 1 0 -3.1 0M817.7 777a1.55 1.55 0 1 0 3.1 0a1.55 1.55 0 1 0 -3.1 0M823.5 776a1.55 1.55 0 1 0 3.1 0a1.55 1.55 0 1 0 -3.1 0M827.1 770.2a1.55 1.55 0 1 0 3.1 0a1.55 1.55 0 1 0 -3.1 0M827.5 776a1.55 1.55 0 1 0 3.1 0a1.55 1.55 0 1 0 -3.1 0M829.2 779.2a1.55 1.55 0 1 0 3.1 0a1.55 1.55 0 1 0 -3.1 0M836.8 789.4a1.55 1.55 0 1 0 3.1 0a1.55 1.55 0 1 0 -3.1 0M834.2 804.7a1.55 1.55 0 1 0 3.1 0a1.55 1.55 0 1 0 -3.1 0M810.9 805.1a1.55 1.55 0 1 0 3.1 0a1.55 1.55 0 1 0 -3.1 0M794.7 803.9a1.55 1.55 0 1 0 3.1 0a1.55 1.55 0 1 0 -3.1 0M790.5 797a1.55 1.55 0 1 0 3.1 0a1.55 1.55 0 1 0 -3.1 0M787.9 787.3a1.55 1.55 0 1 0 3.1 0a1.55 1.55 0 1 0 -3.1 0M793.5 796a1.55 1.55 0 1 0 3.1 0a1.55 1.55 0 1 0 -3.1 0M785.5 797a1.55 1.55 0 1 0 3.1 0a1.55 1.55 0 1 0 -3.1 0M788.5 800a1.55 1.55 0 1 0 3.1 0a1.55 1.55 0 1 0 -3.1 0M794.5 804a1.55 1.55 0 1 0 3.1 0a1.55 1.55 0 1 0 -3.1 0" fill="#000"/>
<g class="nl" transform="scale(0.9 1)"><text x="202.3" y="341">7</text><text x="216.3" y="338.6">8</text><text x="230.1" y="331.4">9</text><text x="238.1" y="329.8">10</text><text x="260.2" y="332.2">11</text><text x="279.7" y="321.1">12</text><text x="288.6" y="319.8">13</text><text x="301" y="318.4">14</text><text x="291.4" y="312.9">15</text><text x="268" y="296.8">16</text><text x="262.2" y="288.3">17</text><text x="273.4" y="274.7">18</text><text x="279.8" y="269.7">19</text><text x="273.4" y="270.1">20</text><text x="267.4" y="271.8">21</text><text x="261.6" y="272.2">22</text><text x="251.4" y="268.1">23</text><text x="231.3" y="256.5">24</text><text x="239.6" y="262.7">25</text><text x="237.7" y="279.3">26</text><text x="238.6" y="296.9">27</text><text x="252.3" y="298.5">28</text><text x="267.4" y="298.8">29</text><text x="273.7" y="290.2">30</text><text x="298.2" y="299.9">31</text><text x="300.2" y="306.3">1</text><text x="298.6" y="313.8">2</text><text x="288.6" y="314.8">3</text><text x="277.4" y="314.3">4</text><text x="272.4" y="311.3">5</text><text x="270.8" y="301.3">6</text><text x="261.6" y="292.8">7</text><text x="248.7" y="286.2">8</text><text x="237.4" y="278.3">9</text><text x="232.3" y="271">10</text><text x="227.4" y="263.3">11</text><text x="221.3" y="254.1">12</text><text x="225.2" y="259.8">13</text><text x="229.7" y="266.3">14</text><text x="233.6" y="272.8">15</text><text x="237.4" y="279.3">16</text><text x="230.8" y="277.3">17</text><text x="225" y="275.1">18</text><text x="216.2" y="258.7">19</text><text x="209" y="250.8">20</text><text x="217.4" y="261.8">21</text><text x="223.1" y="269.4">22</text><text x="211.7" y="273.1">23</text><text x="191.7" y="278.2">24</text><text x="190.3" y="282.2">25</text><text x="189" y="299.9">26</text><text x="178.2" y="301.6">27</text><text x="165.7" y="304">28</text><text x="164.8" y="298.3">29</text><text x="169.2" y="309.6">30</text><text x="156.8" y="323.3">31</text><text x="159.4" y="337">1</text><text x="160.3" y="341.8">2</text><text x="164.8" y="334.6">3</text><text x="179.1" y="340.2">4</text><text x="189.9" y="348.3">5</text><text x="206" y="355.5">6</text><text x="218.4" y="350.7">7</text><text x="224.8" y="337.8">8</text><text x="243.6" y="323.3">9</text><text x="264.1" y="322.5">10</text><text x="271.9" y="322.3">11</text><text x="280.6" y="320.9">12</text><text x="282.4" y="310.1">13</text><text x="295.6" y="305.1">14</text><text x="324.6" y="284.7">15</text><text x="334.1" y="280.3">16</text><text x="322.8" y="276.8">17</text><text x="322.6" y="265.3">18</text><text x="331.6" y="256.4">19</text><text x="341.4" y="254.5">20</text><text x="344.9" y="244.7">21</text><text x="336.4" y="230.3">22</text><text x="323.7" y="228.5">23</text><text x="319.2" y="229.9">24</text><text x="309.7" y="224.2">25</text><text x="306" y="222.4">26</text><text x="300.8" y="224.9">28</text><text x="296.8" y="227.4">27</text><text x="299.7" y="223.3">29</text><text x="303" y="223.8">30</text><text x="825.2" y="321.3">7</text><text x="833" y="313.3">8</text><text x="839.7" y="306.3">9</text><text x="845.2" y="293.3">10</text><text x="849.1" y="280.2">11</text><text x="861.9" y="261.6">12</text><text x="871.2" y="267.1">13</text><text x="856.4" y="320.7">14</text><text x="860.2" y="287.8">15</text><text x="849.1" y="280.2">16</text><text x="838.6" y="293.3">17</text><text x="841.9" y="303.3">18</text><text x="846.3" y="288.3">19</text><text x="838.8" y="264.8">20</text><text x="827.9" y="267.6">21</text><text x="825.9" y="245.8">22</text><text x="809.4" y="250.9">23</text><text x="799.7" y="255.3">24</text><text x="794" y="259.3">25</text><text x="799.7" y="262.3">26</text><text x="807.4" y="265.8">27</text><text x="818.6" y="269.3">28</text><text x="830.8" y="278.3">29</text><text x="839.7" y="288.3">30</text><text x="846.3" y="296.3">31</text><text x="855" y="305.3">1</text><text x="838.1" y="310.7">2</text><text x="848.3" y="335.9">3</text><text x="830.8" y="331.8">4</text><text x="817.1" y="328.5">5</text><text x="800.6" y="316.6">6</text><text x="811.9" y="306.8">7</text><text x="821.7" y="297.6">8</text><text x="825.9" y="297.8">9</text><text x="819.7" y="288.3">10</text><text x="814.8" y="280.7">11</text><text x="803.8" y="275.8">12</text><text x="794.6" y="274.2">13</text><text x="786.3" y="279.3">14</text><text x="779.7" y="281.5">15</text><text x="761.6" y="229.6">16</text><text x="771.9" y="223.6">17</text><text x="788.9" y="249.1">18</text><text x="807.4" y="256.5">19</text><text x="818.4" y="262.6">20</text><text x="825.8" y="272.5">21</text><text x="825.8" y="297.2">22</text><text x="794" y="287.6">23</text><text x="775.9" y="288.3">24</text><text x="759.3" y="300.1">25</text><text x="756.4" y="316.6">26</text><text x="730.1" y="306.8">27</text><text x="737.6" y="329">28</text><text x="735.9" y="310.4">29</text><text x="756.4" y="316.6">30</text><text x="726.1" y="337.7">31</text><text x="733" y="364.5">1</text><text x="730.7" y="340.8">2</text><text x="747.3" y="330.5">3</text><text x="788.4" y="342.4">4</text><text x="807.9" y="334.6">5</text><text x="814.1" y="332.8">6</text><text x="819.7" y="330.8">7</text><text x="826.3" y="329.8">8</text><text x="854.2" y="331.3">9</text><text x="860.9" y="325">10</text><text x="864.6" y="293.3">11</text><text x="847.4" y="305.3">12</text><text x="829.2" y="316">13</text><text x="872.7" y="279.9">14</text><text x="872.7" y="303.3">15</text><text x="872.7" y="326.9">16</text><text x="849.1" y="321.3">17</text><text x="847.7" y="274.3">18</text><text x="836.3" y="271.3">19</text><text x="822.8" y="270.4">20</text><text x="808.6" y="269.3">21</text><text x="791.9" y="268.5">22</text><text x="764.7" y="266.7">23</text><text x="771.9" y="245.8">24</text><text x="801.8" y="222.7">25</text><text x="817.4" y="221.3">26</text><text x="825.9" y="230.1">27</text><text x="833.1" y="226.8">28</text><text x="830" y="223.1">29</text><text x="821.9" y="225.3">30</text><text x="184.2" y="875.9">7</text><text x="188.8" y="862.7">8</text><text x="224.9" y="843.8">9</text><text x="259.3" y="866">10</text><text x="252" y="889.1">11</text><text x="261.1" y="875.9">12</text><text x="286.8" y="871">13</text><text x="295.9" y="861.1">14</text><text x="266.7" y="852.8">15</text><text x="250.1" y="857.8">16</text><text x="227.4" y="840.1">17</text><text x="262.6" y="815.1">18</text><text x="276.9" y="809.1">19</text><text x="275.3" y="823">20</text><text x="272.8" y="834.1">21</text><text x="243" y="823.9">22</text><text x="229.6" y="814.6">23</text><text x="214.1" y="805.3">24</text><text x="208.6" y="795.3">25</text><text x="213" y="793.3">26</text><text x="200.1" y="825.3">27</text><text x="201.9" y="817">28</text><text x="228.2" y="793.3">29</text><text x="251.7" y="773.2">30</text><text x="298.6" y="782.6">31</text><text x="325.6" y="815.8">1</text><text x="297.6" y="827.1">2</text><text x="294.4" y="843.3">3</text><text x="280" y="837.8">4</text><text x="267.4" y="833.3">5</text><text x="259.7" y="831.3">6</text><text x="253" y="829.3">7</text><text x="248.6" y="831.3">8</text><text x="244.1" y="829.3">9</text><text x="247.1" y="828.5">10</text><text x="256.3" y="829.4">11</text><text x="261.9" y="833.3">12</text><text x="246" y="840.1">13</text><text x="246.3" y="831.3">14</text><text x="239.7" y="815.3">15</text><text x="223" y="779.9">16</text><text x="233.9" y="785.6">17</text><text x="223.7" y="777.3">18</text><text x="225.9" y="771.7">19</text><text x="220.8" y="767.6">20</text><text x="233.9" y="792.3">21</text><text x="237.9" y="800.5">22</text><text x="236.8" y="813.4">23</text><text x="197.3" y="809.8">24</text><text x="213.3" y="802.6">25</text><text x="204.1" y="833.5">26</text><text x="192.3" y="841.7">27</text><text x="175.9" y="843.7">28</text><text x="173.1" y="829.3">29</text><text x="173.6" y="832.3">30</text><text x="160.8" y="845.4">31</text><text x="156.7" y="856.5">1</text><text x="153.9" y="833.1">2</text><text x="163.4" y="815.8">3</text><text x="184.7" y="807.7">4</text><text x="197.1" y="842.1">5</text><text x="210.8" y="872.6">6</text><text x="219" y="892.4">7</text><text x="198" y="894.9">8</text><text x="220" y="869.3">9</text><text x="259.3" y="866">10</text><text x="274.9" y="889.1">11</text><text x="261.9" y="868.3">12</text><text x="257.9" y="843.8">13</text><text x="288.4" y="796.8">14</text><text x="307.3" y="776.9">15</text><text x="319.7" y="769.3">16</text><text x="325.6" y="752">17</text><text x="332.6" y="762.2">18</text><text x="348.6" y="770.3">19</text><text x="350.1" y="777.5">20</text><text x="348.6" y="769.3">21</text><text x="337.6" y="737.9">22</text><text x="331.9" y="742.4">23</text><text x="316.1" y="746.3">24</text><text x="283.4" y="743.5">25</text><text x="269.6" y="724.8">26</text><text x="252" y="720.3">27</text><text x="285.3" y="713.5">28</text><text x="328.1" y="729.9">29</text><text x="346.3" y="770.1">30</text><text x="329.3" y="787.7">1</text><text x="297.2" y="769">2</text><text x="292.9" y="747.5">3</text><text x="304.2" y="739">4</text><text x="299.1" y="749.7">5</text><text x="783.3" y="861.1">7</text><text x="798.6" y="869.1">8</text><text x="790.9" y="864.8">9</text><text x="799.2" y="851.8">10</text><text x="828.4" y="838.3">11</text><text x="851.9" y="842.5">12</text><text x="863.3" y="841.9">13</text><text x="865" y="826">14</text><text x="861.3" y="809.3">15</text><text x="865.2" y="796.3">16</text><text x="855.2" y="793.3">17</text><text x="845.1" y="799.8">18</text><text x="843.1" y="794.6">19</text><text x="839.9" y="788.2">20</text><text x="825.2" y="789.3">21</text><text x="821.9" y="791.3">22</text><text x="830.8" y="787.3">23</text><text x="838.8" y="780.1">24</text><text x="840.8" y="789.3">25</text><text x="843.9" y="823.9">26</text><text x="847.3" y="832.7">27</text><text x="863.3" y="835.8">28</text><text x="871.9" y="855.8">29</text><text x="859.9" y="864.1">30</text><text x="849.6" y="862.5">31</text><text x="829" y="853.3">1</text><text x="821" y="841.9">2</text><text x="815.2" y="830.6">3</text><text x="805" y="803.8">4</text><text x="796.4" y="787.4">5</text><text x="797.6" y="792.5">6</text><text x="800.4" y="810.5">7</text><text x="810.8" y="809.3">8</text><text x="821.9" y="811.3">9</text><text x="833" y="813.3">10</text><text x="839.7" y="811.3">11</text><text x="825.2" y="809.3">12</text><text x="814.1" y="811.3">13</text><text x="803" y="812.3">14</text><text x="792.9" y="813.3">15</text><text x="785.7" y="816.4">16</text><text x="783.9" y="811.4">17</text><text x="779.7" y="809.3">18</text><text x="773.8" y="804">19</text><text x="766.3" y="808.3">20</text><text x="771" y="812.7">21</text><text x="764.1" y="806.3">22</text><text x="761" y="805.3">23</text><text x="754.6" y="806.5">24</text><text x="747.7" y="805.7">25</text><text x="755.4" y="816.8">26</text><text x="750.8" y="812.3">27</text><text x="742.7" y="816.4">28</text><text x="743.6" y="819.7">29</text><text x="744.6" y="837">30</text><text x="744.6" y="842.7">31</text><text x="758" y="858">1</text><text x="760.8" y="886.4">2</text><text x="754.6" y="894.5">3</text><text x="740.1" y="906.2">4</text><text x="736" y="895.1">5</text><text x="753.2" y="885.2">6</text><text x="774.4" y="863">7</text><text x="801.9" y="848.1">8</text><text x="821.1" y="842.6">9</text><text x="830.1" y="828">10</text><text x="838.6" y="815.3">11</text><text x="875.2" y="803.8">12</text><text x="909.6" y="820.8">13</text><text x="919.7" y="827.3">14</text><text x="928.4" y="833.1">15</text><text x="904.3" y="837.8">16</text><text x="885.9" y="833.6">17</text><text x="880.7" y="814.8">18</text><text x="885.4" y="798.2">19</text><text x="902" y="786.7">20</text><text x="907.7" y="780.3">21</text><text x="914.1" y="779.3">22</text><text x="918.1" y="773.5">23</text><text x="918.6" y="779.3">24</text><text x="920.4" y="782.5">25</text><text x="928.9" y="792.7">26</text><text x="926.1" y="808">27</text><text x="900.1" y="808.4">28</text><text x="882.1" y="807.2">29</text><text x="877.4" y="800.3">30</text><text x="874.6" y="790.6">1</text><text x="880.8" y="799.3">2</text><text x="871.9" y="800.3">3</text><text x="875.2" y="803.3">4</text><text x="881.9" y="807.3">5</text></g>
<text transform="translate(252.7 307.1) scale(0.93 1)" class="ml" style="fill:#ff0000;stroke:#ff0000" text-anchor="middle">JUL</text>
<text transform="translate(215.3 280.7) scale(0.93 1)" class="ml" style="fill:#0000ff;stroke:#0000ff" text-anchor="middle">AUG</text>
<text transform="translate(307.1 279.7) scale(0.93 1)" class="ml" style="fill:#008000;stroke:#008000" text-anchor="middle">SEP</text>
<text transform="translate(749 323.2) scale(0.93 1)" class="ml" style="fill:#ff0000;stroke:#ff0000" text-anchor="middle">JUL</text>
<text transform="translate(704 284) scale(0.93 1)" class="ml" style="fill:#0000ff;stroke:#0000ff" text-anchor="middle">AUG</text>
<text transform="translate(790 297) scale(0.93 1)" class="ml" style="fill:#008000;stroke:#008000" text-anchor="middle">SEP</text>
<text transform="translate(243 856) scale(0.93 1)" class="ml" style="fill:#ff0000;stroke:#ff0000" text-anchor="middle">JUL</text>
<text transform="translate(210.2 810.6) scale(0.93 1)" class="ml" style="fill:#0000ff;stroke:#0000ff" text-anchor="middle">AUG</text>
<text transform="translate(285 771) scale(0.93 1)" class="ml" style="fill:#008000;stroke:#008000" text-anchor="middle">SEP</text>
<text transform="translate(775 806.5) scale(0.93 1)" class="ml" style="fill:#ff0000;stroke:#ff0000" text-anchor="middle">JUL</text>
<text transform="translate(748 812) scale(0.93 1)" class="ml" style="fill:#0000ff;stroke:#0000ff" text-anchor="middle">AUG</text>
<text transform="translate(836 839) scale(0.93 1)" class="ml" style="fill:#008000;stroke:#008000" text-anchor="middle">SEP</text>
<path d="M52.6 103.1H425.3V475.8H52.6Z" class="ax"/>
<path d="M75.8 103.1v-5M75.8 475.8v5M52.6 452.55h-5M425.3 452.55h5M98.95 103.1v-5M98.95 475.8v5M52.6 429.25h-5M425.3 429.25h5M122.1 103.1v-5M122.1 475.8v5M52.6 405.95h-5M425.3 405.95h5M168.4 103.1v-5M168.4 475.8v5M52.6 359.35h-5M425.3 359.35h5M191.55 103.1v-5M191.55 475.8v5M52.6 336.05h-5M425.3 336.05h5M214.7 103.1v-5M214.7 475.8v5M52.6 312.75h-5M425.3 312.75h5M261 103.1v-5M261 475.8v5M52.6 266.15h-5M425.3 266.15h5M284.15 103.1v-5M284.15 475.8v5M52.6 242.85h-5M425.3 242.85h5M307.3 103.1v-5M307.3 475.8v5M52.6 219.55h-5M425.3 219.55h5M353.6 103.1v-5M353.6 475.8v5M52.6 172.95h-5M425.3 172.95h5M376.75 103.1v-5M376.75 475.8v5M52.6 149.65h-5M425.3 149.65h5M399.9 103.1v-5M399.9 475.8v5M52.6 126.35h-5M425.3 126.35h5" class="tk"/>
<path d="M52.65 103.1v-10.5M52.65 475.8v10.5M52.6 475.85h-10.5M425.3 475.85h10.5M145.25 103.1v-10.5M145.25 475.8v10.5M52.6 382.65h-10.5M425.3 382.65h10.5M237.85 103.1v-10.5M237.85 475.8v10.5M52.6 289.45h-10.5M425.3 289.45h10.5M330.45 103.1v-10.5M330.45 475.8v10.5M52.6 196.25h-10.5M425.3 196.25h10.5M423.05 103.1v-10.5M423.05 475.8v10.5M52.6 103.05h-10.5M425.3 103.05h10.5" class="tkm"/>
<text x="52.65" y="500.8" class="tl" text-anchor="middle">-4</text>
<text x="40.9" y="482.75" class="tl" text-anchor="end">-4</text>
<text x="145.25" y="500.8" class="tl" text-anchor="middle">-2</text>
<text x="40.9" y="389.55" class="tl" text-anchor="end">-2</text>
<text x="237.85" y="500.8" class="tl" text-anchor="middle">0</text>
<text x="40.9" y="296.35" class="tl" text-anchor="end">0</text>
<text x="330.45" y="500.8" class="tl" text-anchor="middle">2</text>
<text x="40.9" y="203.15" class="tl" text-anchor="end">2</text>
<text x="423.05" y="500.8" class="tl" text-anchor="middle">4</text>
<text x="40.9" y="109.95" class="tl" text-anchor="end">4</text>
<text transform="translate(238.85 62.6) scale(0.95 1.06)" class="pt" text-anchor="middle">Combined</text>
<text transform="translate(238.85 88) scale(1 1.06)" class="st" text-anchor="middle">Phase 7 (Western Pacific) Phase 6</text>
<text transform="translate(238.35 522.9) scale(1 1.06)" class="st" text-anchor="middle">Phase 2 (Indian Ocean) Phase 3</text>
<text transform="translate(14.2 289.45) rotate(-90) scale(1 1.06)" class="st" text-anchor="middle">Phase 1 (Western Hem, Africa) Phase 8</text>
<text transform="translate(448.2 289.45) rotate(90) scale(1 1.06)" class="st" text-anchor="middle">Phase 5 (Maritime) Phase 4</text>
<path d="M561.1 103.1H933.8V475.8H561.1Z" class="ax"/>
<path d="M584.3 103.1v-5M584.3 475.8v5M561.1 452.55h-5M933.8 452.55h5M607.45 103.1v-5M607.45 475.8v5M561.1 429.25h-5M933.8 429.25h5M630.6 103.1v-5M630.6 475.8v5M561.1 405.95h-5M933.8 405.95h5M676.9 103.1v-5M676.9 475.8v5M561.1 359.35h-5M933.8 359.35h5M700.05 103.1v-5M700.05 475.8v5M561.1 336.05h-5M933.8 336.05h5M723.2 103.1v-5M723.2 475.8v5M561.1 312.75h-5M933.8 312.75h5M769.5 103.1v-5M769.5 475.8v5M561.1 266.15h-5M933.8 266.15h5M792.65 103.1v-5M792.65 475.8v5M561.1 242.85h-5M933.8 242.85h5M815.8 103.1v-5M815.8 475.8v5M561.1 219.55h-5M933.8 219.55h5M862.1 103.1v-5M862.1 475.8v5M561.1 172.95h-5M933.8 172.95h5M885.25 103.1v-5M885.25 475.8v5M561.1 149.65h-5M933.8 149.65h5M908.4 103.1v-5M908.4 475.8v5M561.1 126.35h-5M933.8 126.35h5" class="tk"/>
<path d="M561.15 103.1v-10.5M561.15 475.8v10.5M561.1 475.85h-10.5M933.8 475.85h10.5M653.75 103.1v-10.5M653.75 475.8v10.5M561.1 382.65h-10.5M933.8 382.65h10.5M746.35 103.1v-10.5M746.35 475.8v10.5M561.1 289.45h-10.5M933.8 289.45h10.5M838.95 103.1v-10.5M838.95 475.8v10.5M561.1 196.25h-10.5M933.8 196.25h10.5M931.55 103.1v-10.5M931.55 475.8v10.5M561.1 103.05h-10.5M933.8 103.05h10.5" class="tkm"/>
<text x="561.15" y="500.8" class="tl" text-anchor="middle">-4</text>
<text x="549.4" y="482.75" class="tl" text-anchor="end">-4</text>
<text x="653.75" y="500.8" class="tl" text-anchor="middle">-2</text>
<text x="549.4" y="389.55" class="tl" text-anchor="end">-2</text>
<text x="746.35" y="500.8" class="tl" text-anchor="middle">0</text>
<text x="549.4" y="296.35" class="tl" text-anchor="end">0</text>
<text x="838.95" y="500.8" class="tl" text-anchor="middle">2</text>
<text x="549.4" y="203.15" class="tl" text-anchor="end">2</text>
<text x="931.55" y="500.8" class="tl" text-anchor="middle">4</text>
<text x="549.4" y="109.95" class="tl" text-anchor="end">4</text>
<text transform="translate(747.35 62.6) scale(0.95 1.06)" class="pt" text-anchor="middle">OLR</text>
<text transform="translate(747.35 88) scale(1 1.06)" class="st" text-anchor="middle">Phase 7 (Western Pacific) Phase 6</text>
<text transform="translate(746.85 522.9) scale(1 1.06)" class="st" text-anchor="middle">Phase 2 (Indian Ocean) Phase 3</text>
<text transform="translate(522.7 289.45) rotate(-90) scale(1 1.06)" class="st" text-anchor="middle">Phase 1 (Western Hem, Africa) Phase 8</text>
<text transform="translate(956.7 289.45) rotate(90) scale(1 1.06)" class="st" text-anchor="middle">Phase 5 (Maritime) Phase 4</text>
<path d="M52.6 631.8H425.3V1004.5H52.6Z" class="ax"/>
<path d="M75.8 631.8v-5M75.8 1004.5v5M52.6 981.25h-5M425.3 981.25h5M98.95 631.8v-5M98.95 1004.5v5M52.6 957.95h-5M425.3 957.95h5M122.1 631.8v-5M122.1 1004.5v5M52.6 934.65h-5M425.3 934.65h5M168.4 631.8v-5M168.4 1004.5v5M52.6 888.05h-5M425.3 888.05h5M191.55 631.8v-5M191.55 1004.5v5M52.6 864.75h-5M425.3 864.75h5M214.7 631.8v-5M214.7 1004.5v5M52.6 841.45h-5M425.3 841.45h5M261 631.8v-5M261 1004.5v5M52.6 794.85h-5M425.3 794.85h5M284.15 631.8v-5M284.15 1004.5v5M52.6 771.55h-5M425.3 771.55h5M307.3 631.8v-5M307.3 1004.5v5M52.6 748.25h-5M425.3 748.25h5M353.6 631.8v-5M353.6 1004.5v5M52.6 701.65h-5M425.3 701.65h5M376.75 631.8v-5M376.75 1004.5v5M52.6 678.35h-5M425.3 678.35h5M399.9 631.8v-5M399.9 1004.5v5M52.6 655.05h-5M425.3 655.05h5" class="tk"/>
<path d="M52.65 631.8v-10.5M52.65 1004.5v10.5M52.6 1004.55h-10.5M425.3 1004.55h10.5M145.25 631.8v-10.5M145.25 1004.5v10.5M52.6 911.35h-10.5M425.3 911.35h10.5M237.85 631.8v-10.5M237.85 1004.5v10.5M52.6 818.15h-10.5M425.3 818.15h10.5M330.45 631.8v-10.5M330.45 1004.5v10.5M52.6 724.95h-10.5M425.3 724.95h10.5M423.05 631.8v-10.5M423.05 1004.5v10.5M52.6 631.75h-10.5M425.3 631.75h10.5" class="tkm"/>
<text x="52.65" y="1029.5" class="tl" text-anchor="middle">-4</text>
<text x="40.9" y="1011.45" class="tl" text-anchor="end">-4</text>
<text x="145.25" y="1029.5" class="tl" text-anchor="middle">-2</text>
<text x="40.9" y="918.25" class="tl" text-anchor="end">-2</text>
<text x="237.85" y="1029.5" class="tl" text-anchor="middle">0</text>
<text x="40.9" y="825.05" class="tl" text-anchor="end">0</text>
<text x="330.45" y="1029.5" class="tl" text-anchor="middle">2</text>
<text x="40.9" y="731.85" class="tl" text-anchor="end">2</text>
<text x="423.05" y="1029.5" class="tl" text-anchor="middle">4</text>
<text x="40.9" y="638.65" class="tl" text-anchor="end">4</text>
<text transform="translate(238.85 591.3) scale(0.95 1.06)" class="pt" text-anchor="middle">U850</text>
<text transform="translate(238.85 616.7) scale(1 1.06)" class="st" text-anchor="middle">Phase 7 (Western Pacific) Phase 6</text>
<text transform="translate(238.35 1051.6) scale(1 1.06)" class="st" text-anchor="middle">Phase 2 (Indian Ocean) Phase 3</text>
<text transform="translate(14.2 818.15) rotate(-90) scale(1 1.06)" class="st" text-anchor="middle">Phase 1 (Western Hem, Africa) Phase 8</text>
<text transform="translate(448.2 818.15) rotate(90) scale(1 1.06)" class="st" text-anchor="middle">Phase 5 (Maritime) Phase 4</text>
<path d="M561.1 631.8H933.8V1004.5H561.1Z" class="ax"/>
<path d="M584.3 631.8v-5M584.3 1004.5v5M561.1 981.25h-5M933.8 981.25h5M607.45 631.8v-5M607.45 1004.5v5M561.1 957.95h-5M933.8 957.95h5M630.6 631.8v-5M630.6 1004.5v5M561.1 934.65h-5M933.8 934.65h5M676.9 631.8v-5M676.9 1004.5v5M561.1 888.05h-5M933.8 888.05h5M700.05 631.8v-5M700.05 1004.5v5M561.1 864.75h-5M933.8 864.75h5M723.2 631.8v-5M723.2 1004.5v5M561.1 841.45h-5M933.8 841.45h5M769.5 631.8v-5M769.5 1004.5v5M561.1 794.85h-5M933.8 794.85h5M792.65 631.8v-5M792.65 1004.5v5M561.1 771.55h-5M933.8 771.55h5M815.8 631.8v-5M815.8 1004.5v5M561.1 748.25h-5M933.8 748.25h5M862.1 631.8v-5M862.1 1004.5v5M561.1 701.65h-5M933.8 701.65h5M885.25 631.8v-5M885.25 1004.5v5M561.1 678.35h-5M933.8 678.35h5M908.4 631.8v-5M908.4 1004.5v5M561.1 655.05h-5M933.8 655.05h5" class="tk"/>
<path d="M561.15 631.8v-10.5M561.15 1004.5v10.5M561.1 1004.55h-10.5M933.8 1004.55h10.5M653.75 631.8v-10.5M653.75 1004.5v10.5M561.1 911.35h-10.5M933.8 911.35h10.5M746.35 631.8v-10.5M746.35 1004.5v10.5M561.1 818.15h-10.5M933.8 818.15h10.5M838.95 631.8v-10.5M838.95 1004.5v10.5M561.1 724.95h-10.5M933.8 724.95h10.5M931.55 631.8v-10.5M931.55 1004.5v10.5M561.1 631.75h-10.5M933.8 631.75h10.5" class="tkm"/>
<text x="561.15" y="1029.5" class="tl" text-anchor="middle">-4</text>
<text x="549.4" y="1011.45" class="tl" text-anchor="end">-4</text>
<text x="653.75" y="1029.5" class="tl" text-anchor="middle">-2</text>
<text x="549.4" y="918.25" class="tl" text-anchor="end">-2</text>
<text x="746.35" y="1029.5" class="tl" text-anchor="middle">0</text>
<text x="549.4" y="825.05" class="tl" text-anchor="end">0</text>
<text x="838.95" y="1029.5" class="tl" text-anchor="middle">2</text>
<text x="549.4" y="731.85" class="tl" text-anchor="end">2</text>
<text x="931.55" y="1029.5" class="tl" text-anchor="middle">4</text>
<text x="549.4" y="638.65" class="tl" text-anchor="end">4</text>
<text transform="translate(747.35 591.3) scale(0.95 1.06)" class="pt" text-anchor="middle">U200</text>
<text transform="translate(747.35 616.7) scale(1 1.06)" class="st" text-anchor="middle">Phase 7 (Western Pacific) Phase 6</text>
<text transform="translate(746.85 1051.6) scale(1 1.06)" class="st" text-anchor="middle">Phase 2 (Indian Ocean) Phase 3</text>
<text transform="translate(522.7 818.15) rotate(-90) scale(1 1.06)" class="st" text-anchor="middle">Phase 1 (Western Hem, Africa) Phase 8</text>
<text transform="translate(956.7 818.15) rotate(90) scale(1 1.06)" class="st" text-anchor="middle">Phase 5 (Maritime) Phase 4</text>
</svg></body></html>
